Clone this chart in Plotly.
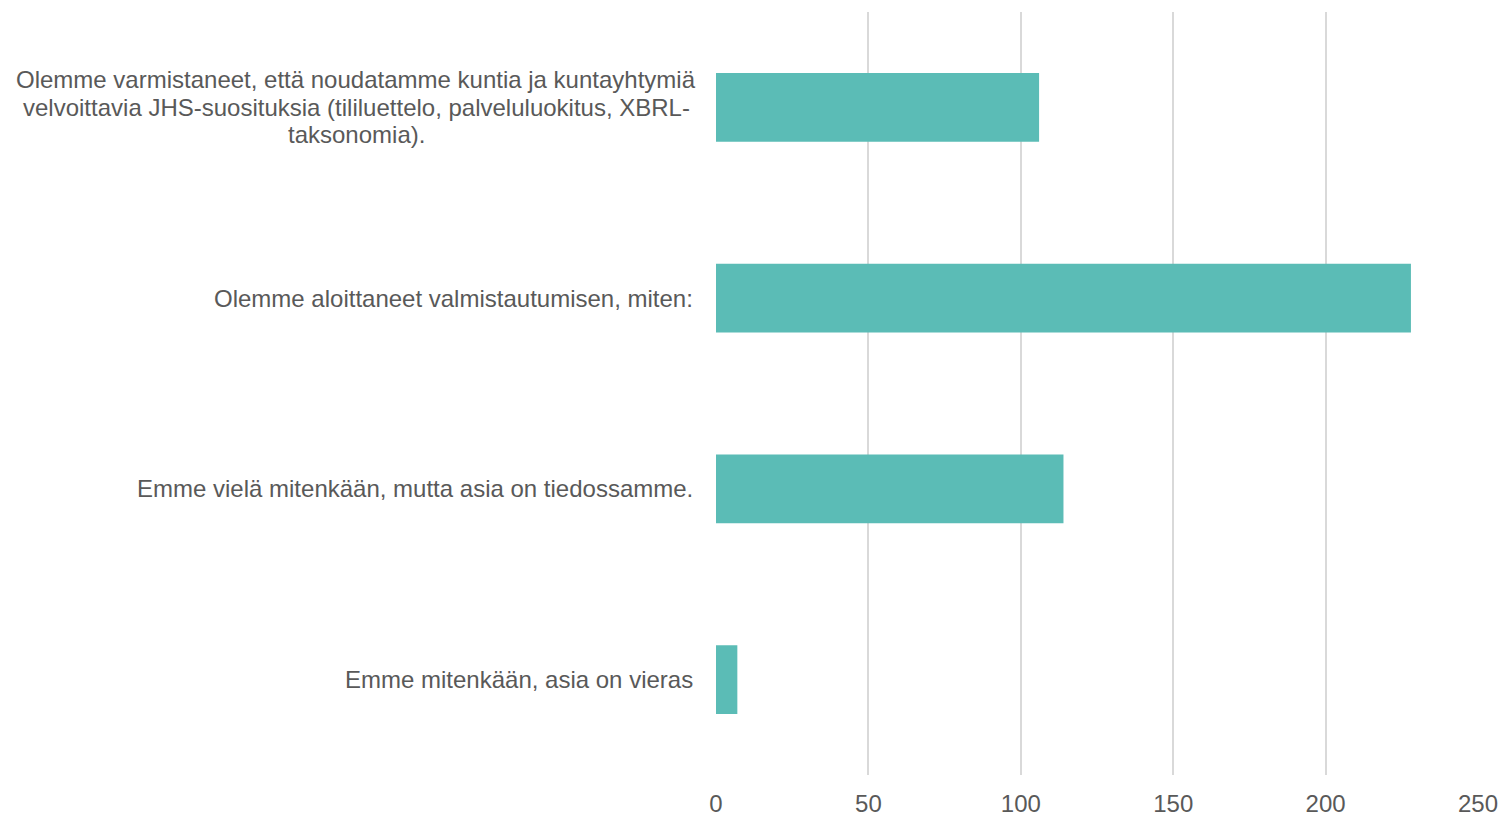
import plotly.graph_objects as go

categories = [
    "Olemme varmistaneet, että noudatamme kuntia ja kuntayhtymiä<br>velvoittavia JHS-suosituksia (tililuettelo, palveluluokitus, XBRL-<br>taksonomia).",
    "Olemme aloittaneet valmistautumisen, miten:",
    "Emme vielä mitenkään, mutta asia on tiedossamme.",
    "Emme mitenkään, asia on vieras",
]
values = [106, 228, 114, 7]
x_ticks = [0, 50, 100, 150, 200, 250]

FONT = "Liberation Sans, Arial, sans-serif"
TXT = "#595959"
FS = 24
LINE_H = 27.5

fig = go.Figure(go.Bar(
    y=list(range(len(categories))),
    x=values,
    orientation="h",
    marker=dict(color="#5BBCB6", line=dict(width=0)),
    hoverinfo="skip",
))

# category labels: multi-line ones drawn line by line, centred, to control spacing
for i, c in enumerate(categories):
    lines = c.split("<br>")
    n = len(lines)
    if n == 1:
        fig.add_annotation(
            x=0, y=i, xref="x", yref="y", text=c, showarrow=False,
            xanchor="right", yanchor="middle", xshift=-21,
            font=dict(family=FONT, size=FS, color=TXT),
        )
    else:
        for k, ln in enumerate(lines):
            off = (k - (n - 1) / 2) * LINE_H
            fig.add_annotation(
                x=0, y=i, xref="x", yref="y", text=ln, showarrow=False,
                xanchor="center", yanchor="middle", xshift=-21 - 339,
                yshift=-off,
                font=dict(family=FONT, size=FS, color=TXT),
            )

fig.update_layout(
    width=1501, height=816,
    margin=dict(l=716, r=23, t=12, b=41, autoexpand=False),
    paper_bgcolor="white", plot_bgcolor="white",
    bargap=0.64,
    showlegend=False,
    font=dict(family=FONT, size=FS, color=TXT),
)
fig.update_xaxes(
    range=[0, 250], tickvals=x_ticks, showgrid=True, gridcolor="#d9d9d9",
    gridwidth=1.5, zeroline=False, showline=False, automargin=False,
    ticks="outside", ticklen=7, tickcolor="rgba(0,0,0,0)",
    tickfont=dict(family=FONT, size=FS, color=TXT),
)
fig.update_yaxes(
    range=[3.5, -0.5], showticklabels=False, showgrid=False,
    zeroline=False, showline=False, automargin=False,
)

fig.write_html(
    "out.html",
    config={"displayModeBar": False},
    post_script="document.body.style.margin='0';document.body.style.overflow='hidden';",
)
